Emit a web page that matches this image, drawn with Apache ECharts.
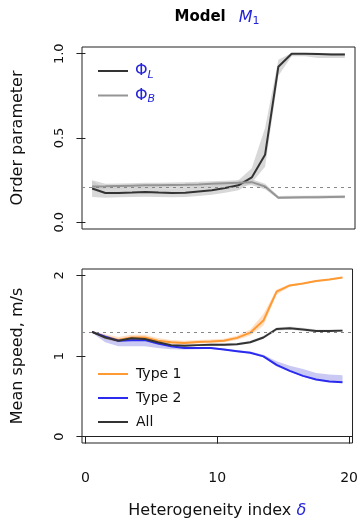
<!DOCTYPE html>
<html>
<head>
<meta charset="utf-8">
<script src="https://cdn.jsdelivr.net/npm/echarts@6/dist/echarts.min.js"></script>
<style>
  html, body { margin: 0; padding: 0; background: #fff; }
  #main { width: 361px; height: 520px; }
</style>
</head>
<body>
<div id="main"></div>
<script>
// heterogeneity index (x positions of the simulations)
const delta = [0.5, 1.5, 2.5, 3.5, 4.5, 5.5, 6.5, 7.5, 8.5, 9.5, 10.5, 11.5, 12.5, 13.5, 14.5, 15.5, 16.5, 17.5, 18.5, 19.5]

// top panel: order parameters
const phiL   = [0.200, 0.174, 0.174, 0.176, 0.180, 0.176, 0.174, 0.175, 0.183, 0.190, 0.203, 0.219, 0.266, 0.400, 0.923, 1.000, 1.000, 0.998, 0.996, 0.996]
const phiLlo = [0.150, 0.145, 0.148, 0.150, 0.152, 0.150, 0.148, 0.150, 0.156, 0.163, 0.175, 0.190, 0.235, 0.330, 0.870, 0.985, 0.985, 0.975, 0.975, 0.975]
const phiLhi = [0.245, 0.200, 0.200, 0.202, 0.206, 0.204, 0.202, 0.205, 0.210, 0.218, 0.232, 0.250, 0.320, 0.560, 0.965, 1.005, 1.005, 1.005, 1.005, 1.005]
const phiB   = [0.212, 0.213, 0.215, 0.217, 0.219, 0.220, 0.221, 0.222, 0.224, 0.228, 0.231, 0.234, 0.238, 0.212, 0.146, 0.147, 0.148, 0.149, 0.150, 0.151]
const phiBlo = [0.190, 0.196, 0.198, 0.200, 0.202, 0.203, 0.204, 0.205, 0.207, 0.210, 0.213, 0.216, 0.220, 0.196, 0.138, 0.139, 0.140, 0.141, 0.142, 0.143]
const phiBhi = [0.250, 0.228, 0.230, 0.232, 0.234, 0.235, 0.236, 0.238, 0.240, 0.244, 0.247, 0.250, 0.255, 0.228, 0.156, 0.157, 0.158, 0.159, 0.160, 0.161]
const phiRef = 0.21

// bottom panel: mean speeds (m/s)
const type1   = [1.300, 1.238, 1.200, 1.230, 1.230, 1.190, 1.170, 1.160, 1.175, 1.180, 1.190, 1.225, 1.290, 1.440, 1.800, 1.876, 1.900, 1.930, 1.950, 1.975]
const type1lo = [1.290, 1.205, 1.175, 1.200, 1.200, 1.165, 1.145, 1.140, 1.155, 1.160, 1.170, 1.200, 1.255, 1.380, 1.760, 1.860, 1.890, 1.920, 1.940, 1.965]
const type1hi = [1.310, 1.270, 1.235, 1.265, 1.265, 1.225, 1.200, 1.190, 1.200, 1.205, 1.215, 1.250, 1.330, 1.520, 1.825, 1.890, 1.910, 1.940, 1.960, 1.985]
const type2   = [1.300, 1.240, 1.190, 1.197, 1.197, 1.156, 1.120, 1.100, 1.100, 1.100, 1.080, 1.060, 1.040, 0.995, 0.890, 0.815, 0.753, 0.708, 0.683, 0.675]
const type2lo = [1.290, 1.170, 1.120, 1.120, 1.120, 1.100, 1.085, 1.080, 1.085, 1.090, 1.070, 1.050, 1.030, 0.985, 0.870, 0.805, 0.745, 0.700, 0.678, 0.670]
const type2hi = [1.310, 1.260, 1.205, 1.212, 1.212, 1.170, 1.135, 1.115, 1.112, 1.110, 1.092, 1.072, 1.055, 1.015, 0.935, 0.880, 0.840, 0.790, 0.770, 0.760]
const all     = [1.300, 1.230, 1.190, 1.220, 1.210, 1.170, 1.135, 1.127, 1.135, 1.140, 1.140, 1.146, 1.170, 1.230, 1.335, 1.345, 1.330, 1.310, 1.310, 1.315]
const allLo   = [1.290, 1.210, 1.170, 1.200, 1.190, 1.150, 1.118, 1.112, 1.120, 1.125, 1.125, 1.132, 1.155, 1.210, 1.315, 1.325, 1.310, 1.295, 1.295, 1.298]
const allHi   = [1.310, 1.250, 1.210, 1.240, 1.230, 1.190, 1.152, 1.142, 1.150, 1.155, 1.155, 1.160, 1.185, 1.250, 1.355, 1.365, 1.350, 1.328, 1.328, 1.332]
const speedRef = 1.3

const yTicksTop = [0, 0.5, 1]
const yTicksBottom = [0, 1, 2]
const xTicks = [0, 10, 20]

const FONT = 'DejaVu Sans'
const BLUE = '#2424d8'

const pairs = (ys) => delta.map((x, i) => [x, ys[i]])

// confidence band: one polygon through lo (left to right) and hi (right to left)
function band(lo, hi, color, gi) {
  return {
    type: 'custom', xAxisIndex: gi, yAxisIndex: gi, silent: true, z: 1,
    data: delta.map((x, i) => [x, lo[i], hi[i]]),
    encode: { x: 0, y: [1, 2] },
    renderItem: (params, api) => {
      if (params.dataIndex !== 0) return
      const pts = []
      delta.forEach((x, i) => pts.push(api.coord([x, lo[i]])))
      for (let i = delta.length - 1; i >= 0; i--) pts.push(api.coord([delta[i], hi[i]]))
      return { type: 'polygon', shape: { points: pts }, style: { fill: color } }
    }
  }
}

function line(name, ys, color, gi, extra) {
  return Object.assign({
    type: 'line', name: name, xAxisIndex: gi, yAxisIndex: gi,
    data: pairs(ys), symbol: 'none', z: 3,
    lineStyle: { color: color, width: 2 },
    itemStyle: { color: color }
  }, extra || {})
}

function refLine(value) {
  return {
    silent: true, symbol: ['none', 'none'],
    label: { show: false },
    lineStyle: { type: [3, 4], color: '#888', width: 1 },
    data: [{ yAxis: value }]
  }
}

const myChart = echarts.init(document.getElementById('main'))

const option = {
  animation: false,
  textStyle: { fontFamily: FONT },
  title: {
    text: '{m|Model}{g|}{i|M}{s|1}',
    left: 212, top: 3, textAlign: 'center',
    textStyle: {
      rich: {
        m: { fontFamily: FONT, fontSize: 15, fontWeight: 'bold', color: '#000' },
        g: { width: 13 },
        i: { fontFamily: FONT, fontSize: 16, fontWeight: 'normal', fontStyle: 'italic', color: BLUE },
        s: { fontFamily: FONT, fontSize: 11, fontWeight: 'normal', color: BLUE, padding: [8, 0, 0, 0] }
      }
    }
  },
  legend: [{
    data: ['PhiL', 'PhiB'],
    orient: 'vertical', left: 93, top: 58, itemGap: 7,
    itemWidth: 30, itemHeight: 2, icon: 'rect',
    formatter: (n) => n === 'PhiL' ? '{a|Φ}{b|L}' : '{a|Φ}{b|B}',
    textStyle: {
      rich: {
        a: { fontFamily: FONT, fontSize: 16, color: BLUE, padding: [0, 0, 0, 2] },
        b: { fontFamily: FONT, fontSize: 11, fontStyle: 'italic', color: BLUE, padding: [8, 0, 0, 0] }
      }
    }
  }, {
    data: ['Type 1', 'Type 2', 'All'],
    orient: 'vertical', left: 93, top: 362, itemGap: 10,
    itemWidth: 30, itemHeight: 2, icon: 'rect',
    textStyle: { fontFamily: FONT, fontSize: 14, color: '#111', padding: [0, 0, 0, 3] }
  }],
  grid: [
    { left: 82, top: 47, width: 273, height: 182, show: true, borderColor: '#222', borderWidth: 1 },
    { left: 82, top: 269, width: 273, height: 175, show: true, borderColor: '#222', borderWidth: 1 }
  ],
  xAxis: [{
    gridIndex: 0, type: 'value', min: -0.26, max: 20.26, show: false
  }, {
    gridIndex: 1, type: 'value', min: -0.26, max: 20.26, offset: 8,
    axisLine: { show: true, lineStyle: { color: '#222' } },
    axisTick: { show: true, customValues: xTicks, length: 7, lineStyle: { color: '#222' } },
    axisLabel: { customValues: xTicks, fontSize: 14, color: '#111', margin: 20, fontFamily: FONT },
    splitLine: { show: false },
    name: '{t|Heterogeneity index }{d|δ}',
    nameLocation: 'middle', nameGap: 52,
    nameTextStyle: {
      rich: {
        t: { fontFamily: FONT, fontSize: 16, color: '#111' },
        d: { fontFamily: FONT, fontSize: 16, fontStyle: 'italic', color: BLUE }
      }
    }
  }],
  yAxis: [{
    gridIndex: 0, type: 'value', min: -0.04, max: 1.04,
    axisLine: { show: false },
    axisTick: { show: true, customValues: yTicksTop, length: 9, lineStyle: { color: '#222' } },
    axisLabel: { customValues: yTicksTop, rotate: 90, fontSize: 13, color: '#111', margin: 16,
      formatter: (v) => v.toFixed(1), fontFamily: FONT },
    splitLine: { show: false },
    name: 'Order parameter', nameLocation: 'middle', nameGap: 56,
    nameTextStyle: { fontFamily: FONT, fontSize: 16, color: '#111' }
  }, {
    gridIndex: 1, type: 'value', min: -0.08, max: 2.08,
    axisLine: { show: false },
    axisTick: { show: true, customValues: yTicksBottom, length: 9, lineStyle: { color: '#222' } },
    axisLabel: { customValues: yTicksBottom, rotate: 90, fontSize: 13, color: '#111', margin: 16, fontFamily: FONT },
    splitLine: { show: false },
    name: 'Mean speed, m/s', nameLocation: 'middle', nameGap: 56,
    nameTextStyle: { fontFamily: FONT, fontSize: 16, color: '#111' }
  }],
  series: [
    band(phiLlo, phiLhi, 'rgba(200,200,200,0.7)', 0),
    band(phiBlo, phiBhi, 'rgba(200,200,200,0.7)', 0),
    line('PhiL', phiL, '#333333', 0),
    line('PhiB', phiB, '#959595', 0, { markLine: refLine(phiRef) }),
    band(type1lo, type1hi, 'rgba(255,175,110,0.4)', 1),
    band(type2lo, type2hi, 'rgba(120,120,225,0.4)', 1),
    band(allLo, allHi, 'rgba(170,170,170,0.35)', 1),
    line('Type 1', type1, '#ff9a33', 1, { markLine: refLine(speedRef) }),
    line('Type 2', type2, '#2b2bf0', 1),
    line('All', all, '#333333', 1)
  ]
}

myChart.setOption(option)
myChart.resize()
</script>
</body>
</html>
